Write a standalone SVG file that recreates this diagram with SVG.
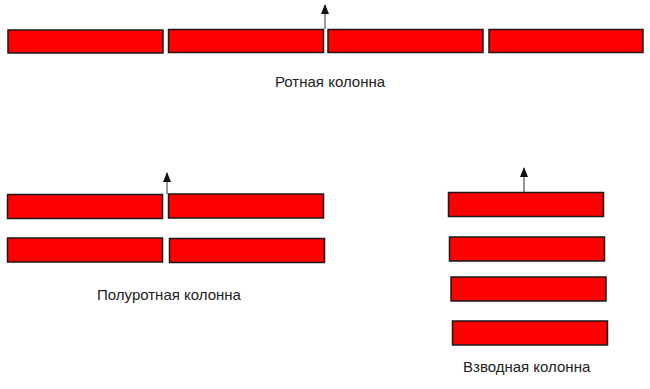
<svg xmlns="http://www.w3.org/2000/svg" width="650" height="389" viewBox="0 0 650 389">
<style>
.u{fill:#ff0000;stroke:#1a1a1a;stroke-width:1.5}
.t{font-family:"Liberation Sans",Arial,sans-serif;font-size:15px;fill:#222}
.a{stroke:#333;stroke-width:1;fill:none;marker-end:url(#ah)}
</style>
<defs>
<marker id="ah" markerWidth="10" markerHeight="8" refX="9" refY="4" orient="auto" markerUnits="userSpaceOnUse" viewBox="0 0 10 8">
<path d="M0,0 L10,4 L0,8 Z" fill="#111"/>
</marker>
</defs>
<rect width="650" height="389" fill="#fff"/>
<g id="company">
<rect id="c1" class="u" x="8" y="30" width="155" height="23"/>
<rect id="c2" class="u" x="168.5" y="29.5" width="155" height="23"/>
<rect id="c3" class="u" x="328" y="29.5" width="155" height="23"/>
<rect id="c4" class="u" x="489" y="29.5" width="154" height="23"/>
<text class="t" x="275" y="87">Ротная колонна</text>
</g>
<g id="halfcompany">
<rect id="h1" class="u" x="7.5" y="194.5" width="155" height="24"/>
<rect id="h2" class="u" x="168.5" y="194" width="155" height="24"/>
<rect id="h3" class="u" x="7.5" y="238" width="155" height="24"/>
<rect id="h4" class="u" x="169.5" y="238.5" width="155" height="24"/>
<text class="t" x="97" y="300">Полуротная колонна</text>
</g>
<g id="platoon">
<rect id="p1" class="u" x="448.5" y="192.5" width="155" height="24"/>
<rect id="p2" class="u" x="449.5" y="237" width="155" height="24"/>
<rect id="p3" class="u" x="451" y="277" width="155" height="24"/>
<rect id="p4" class="u" x="452.5" y="321" width="155" height="24"/>
<text class="t" x="463" y="372">Взводная колонна</text>
</g>
<g id="connectors">
<line class="a" x1="325" y1="29" x2="325" y2="5"/>
<line class="a" x1="167" y1="194" x2="167" y2="173"/>
<line class="a" x1="524" y1="192" x2="524" y2="168"/>
</g>
</svg>
